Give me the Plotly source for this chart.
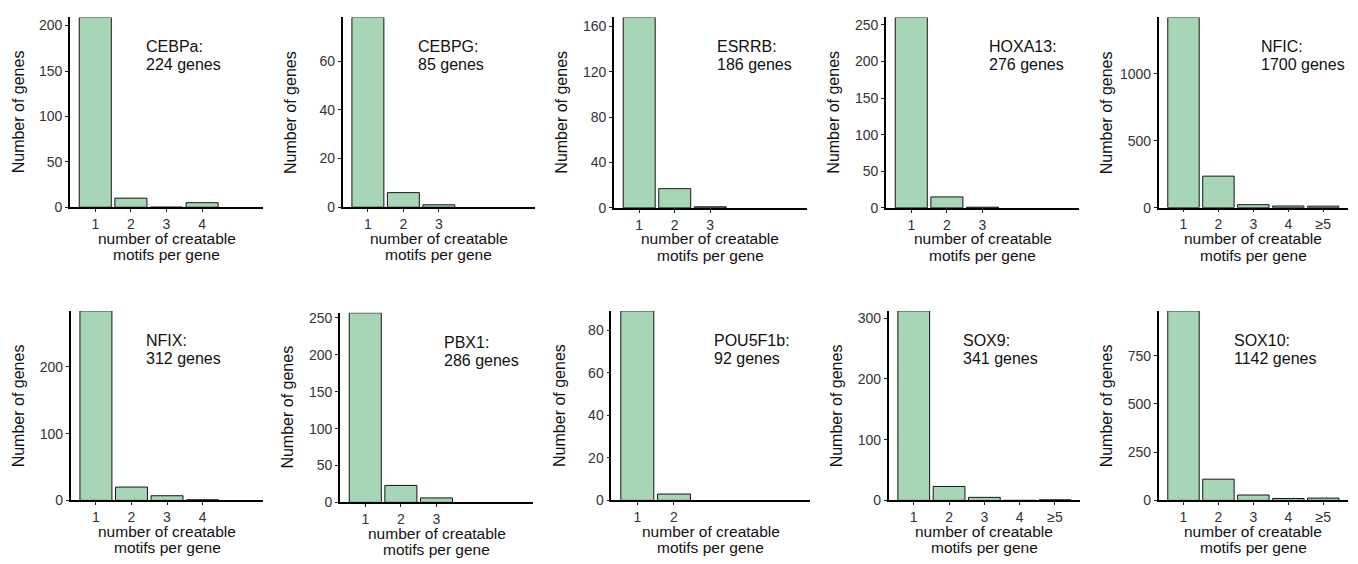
import plotly.graph_objects as go

# ---------------- data ----------------
categories = ["1", "2", "3", "4", "≥5"]

names = ["CEBPa", "CEBPG", "ESRRB", "HOXA13", "NFIC",
         "NFIX", "PBX1", "POU5F1b", "SOX9", "SOX10"]
totals = [224, 85, 186, 276, 1700, 312, 286, 92, 341, 1142]

cebpa = [209, 10, 0, 5]
cebpg = [78, 6, 1]
esrrb = [168, 17, 1]
hoxa13 = [260, 15, 1]
nfic = [1420, 235, 22, 12, 11]
nfix = [284, 20, 7, 1]
pbx1 = [257, 23, 6]
pou5f1b = [89, 3]
sox9 = [312, 23, 5, 0, 1]
sox10 = [982, 110, 28, 10, 12]

counts = [cebpa, cebpg, esrrb, hoxa13, nfic, nfix, pbx1, pou5f1b, sox9, sox10]
y_steps = [50, 20, 40, 50, 500, 100, 50, 20, 100, 250]

x_title_1 = "number of creatable"
x_title_2 = "motifs per gene"
y_title = "Number of genes"

# ---------------- layout geometry (pixels) ----------------
W, H = 1358, 564
# (left, right, top, bottom) of each plotting panel
panels_px = [
    (70.0, 263.0, 14.7, 208.3),
    (342.7, 535.0, 14.7, 208.3),
    (614.0, 806.5, 14.7, 209.0),
    (886.0, 1079.0, 14.7, 209.0),
    (1158.7, 1348.0, 14.7, 208.7),
    (70.7, 263.3, 314.0, 507.3),
    (340.0, 533.0, 316.0, 509.3),
    (611.3, 810.0, 314.0, 507.3),
    (888.7, 1080.0, 314.0, 507.3),
    (1158.7, 1348.0, 314.0, 507.3),
]
label_dx = [73.5, 73, 100.5, 101, 100.5, 73.5, 101.5, 101, 72, 73.5]

FONT = "Liberation Sans, Arial, Helvetica, sans-serif"
BAR_FILL = "#A7D6B6"
TEXT = "#111111"
TICKTXT = "#333333"


def px_x(v):
    return v / W


def px_y(v):
    return 1 - v / H


fig = go.Figure()
layout = dict(
    width=W, height=H,
    margin=dict(l=0, r=0, t=0, b=0),
    paper_bgcolor="white", plot_bgcolor="white",
    showlegend=False, bargap=0.1,
    font=dict(family=FONT, size=14, color=TICKTXT),
)
annotations = []

for i, (name, total, vals, step, geom, dx) in enumerate(
        zip(names, totals, counts, y_steps, panels_px, label_dx)):
    k = i + 1
    xa = "x" if k == 1 else f"x{k}"
    ya = "y" if k == 1 else f"y{k}"
    left, right, top, bottom = geom
    cats = categories[:len(vals)]
    fig.add_trace(go.Bar(
        x=cats, y=vals, xaxis=xa, yaxis=ya,
        marker=dict(color=BAR_FILL, line=dict(color="#151515", width=1)),
        width=0.9, cliponaxis=False, hoverinfo="x+y",
    ))
    axis_common = dict(
        showline=True, linecolor="black", linewidth=1.6,
        ticks="outside", ticklen=3, tickwidth=1, tickcolor="#222",
        showgrid=False, zeroline=False, fixedrange=True,
        tickfont=dict(family=FONT, size=14, color=TICKTXT),
    )
    layout["xaxis" if k == 1 else f"xaxis{k}"] = dict(
        axis_common,
        domain=[px_x(left), px_x(right)],
        anchor=ya, type="category",
        categoryorder="array", categoryarray=categories,
        range=[-0.71, len(categories) - 1 + 0.71],
        tickmode="array", tickvals=cats, ticktext=cats,
    )
    layout["yaxis" if k == 1 else f"yaxis{k}"] = dict(
        axis_common,
        domain=[px_y(bottom), px_y(top)],
        anchor=xa, range=[0, max(vals)],
        tickmode="linear", tick0=0, dtick=step,
    )
    # gene-set label (two lines)
    for line_txt, off in ((f"{name}:", 30), (f"{total} genes", 48.5)):
        annotations.append(dict(
            text=line_txt, xref="paper", yref="paper",
            x=px_x(left + dx), y=px_y(top + off),
            xanchor="left", yanchor="middle", showarrow=False,
            font=dict(family=FONT, size=16, color=TEXT),
        ))
    # x-axis title (two tight lines)
    cx = (left + right) / 2
    for line_txt, off in ((x_title_1, 31.5), (x_title_2, 48.5)):
        annotations.append(dict(
            text=line_txt, xref="paper", yref="paper",
            x=px_x(cx), y=px_y(bottom + off),
            xanchor="center", yanchor="middle", showarrow=False,
            font=dict(family=FONT, size=15.5, color=TEXT),
        ))
    # y-axis title
    annotations.append(dict(
        text=y_title, xref="paper", yref="paper",
        x=px_x(left - 52), y=px_y((top + bottom) / 2),
        xanchor="center", yanchor="middle", textangle=-90, showarrow=False,
        font=dict(family=FONT, size=16, color=TEXT),
    ))

layout["annotations"] = annotations
fig.update_layout(**layout)
fig.write_html("out.html")
